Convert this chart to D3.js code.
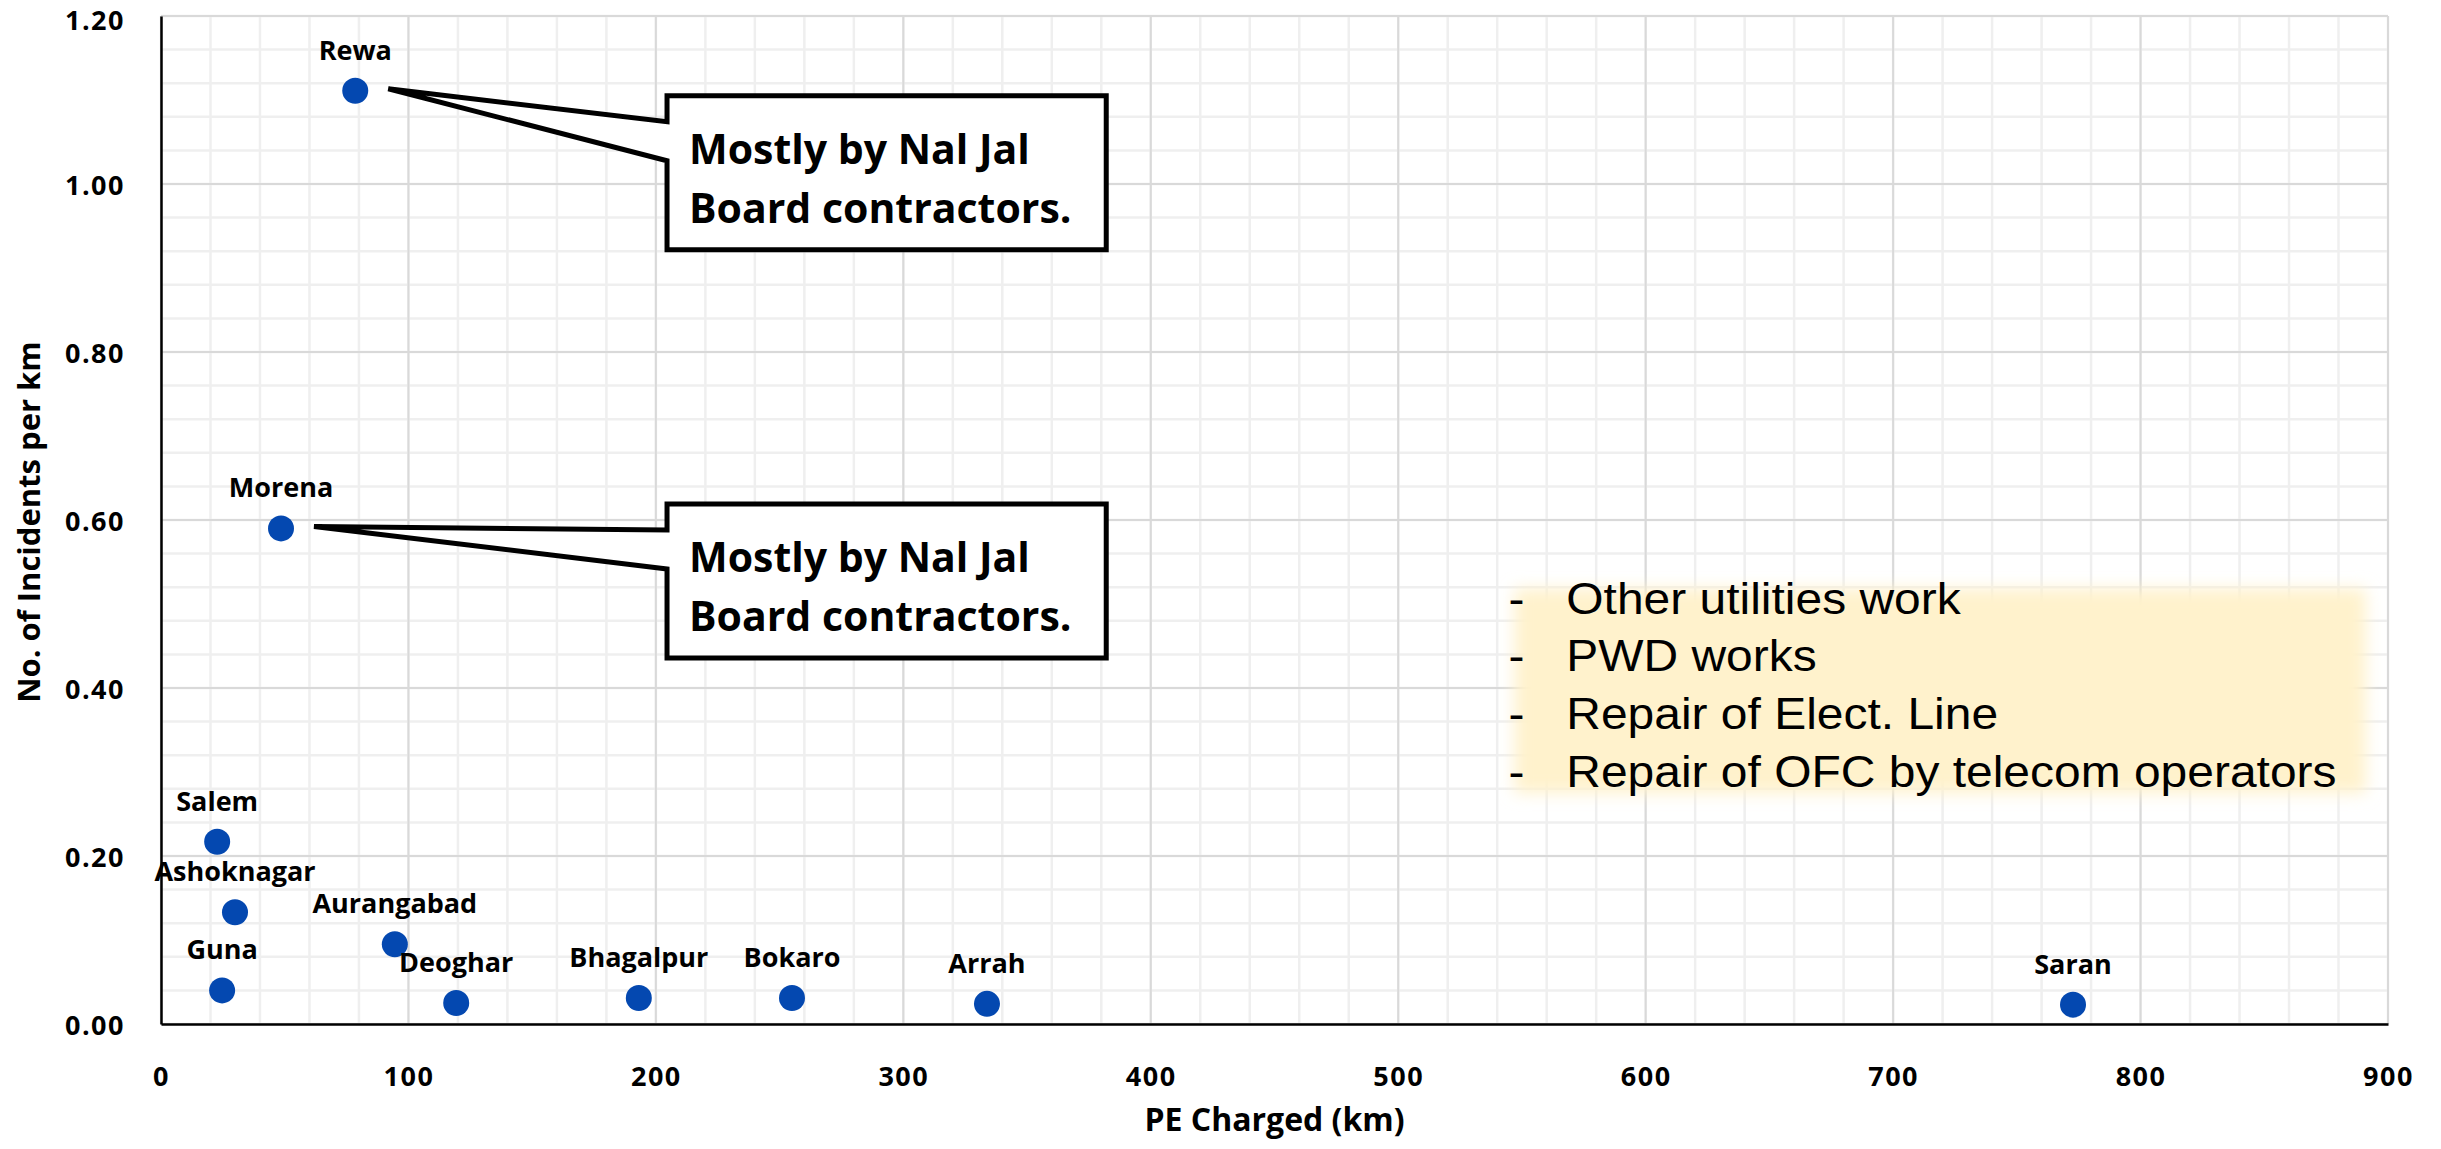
<!DOCTYPE html>
<html>
<head>
<meta charset="utf-8">
<script src="https://cdn.jsdelivr.net/npm/d3@7"></script>
<style>
  body { margin: 0; background: #fff; }
  text { font-family: "Open Sans", sans-serif; }
</style>
</head>
<body>
<svg id="chart" width="2441" height="1149"></svg>
<script>
// data
const cities = ["Rewa", "Morena", "Salem", "Ashoknagar", "Guna", "Aurangabad", "Deoghar", "Bhagalpur", "Bokaro", "Arrah", "Saran"];
const peCharged = [78.5, 48.5, 22.7, 29.9, 24.7, 94.5, 119.3, 193.1, 255, 333.8, 772.7];
const incidentsPerKm = [1.111, 0.590, 0.217, 0.133, 0.040, 0.095, 0.025, 0.031, 0.031, 0.024, 0.023];

const xTicks = [0, 100, 200, 300, 400, 500, 600, 700, 800, 900];
const yTicks = [0, 0.2, 0.4, 0.6, 0.8, 1.0, 1.2];

const calloutCities = ["Rewa", "Morena"];
const calloutTops = [1.105, 0.619];      // box top, in y units
const calloutLines = ["Mostly by Nal Jal", "Board contractors."];

const notes = ["Other utilities work", "PWD works", "Repair of Elect. Line", "Repair of OFC by telecom operators"];

const svg = d3.select("#chart");

const x = d3.scaleLinear().domain([0, 900]).range([161, 2388]);
const y = d3.scaleLinear().domain([0, 1.2]).range([1024, 16]);

// grid
const grid = svg.append("g");
grid.selectAll(".vminor")
    .data(d3.range(0, 901, 20))
    .enter().append("line")
    .attr("x1", d => x(d)).attr("x2", d => x(d))
    .attr("y1", y(0)).attr("y2", y(1.2))
    .attr("stroke", "#efefef").attr("stroke-width", 2.5);
grid.selectAll(".hminor")
    .data(d3.range(0, 1.2001, 0.04))
    .enter().append("line")
    .attr("x1", x(0)).attr("x2", x(900))
    .attr("y1", d => y(d)).attr("y2", d => y(d))
    .attr("stroke", "#efefef").attr("stroke-width", 2.5);
grid.selectAll(".vmajor")
    .data(xTicks)
    .enter().append("line")
    .attr("x1", d => x(d)).attr("x2", d => x(d))
    .attr("y1", y(0)).attr("y2", y(1.2))
    .attr("stroke", "#d9d9d9").attr("stroke-width", 2);
grid.selectAll(".hmajor")
    .data(yTicks)
    .enter().append("line")
    .attr("x1", x(0)).attr("x2", x(900))
    .attr("y1", d => y(d)).attr("y2", d => y(d))
    .attr("stroke", "#d9d9d9").attr("stroke-width", 2);

// axes
const xAxis = svg.append("g")
    .attr("transform", `translate(0,${y(0)})`)
    .call(d3.axisBottom(x).tickValues(xTicks).tickSize(0).tickPadding(43).tickFormat(d3.format("d")));
const yAxis = svg.append("g")
    .attr("transform", `translate(${x(0)},0)`)
    .call(d3.axisLeft(y).tickValues(yTicks).tickSize(0).tickPadding(36).tickFormat(d3.format(".2f")));

[xAxis, yAxis].forEach(a => {
    a.select(".domain").attr("stroke", "#000").attr("stroke-width", 2.5);
    a.selectAll("text")
        .attr("fill", "#000")
        .style("font-family", "'Open Sans', sans-serif")
        .style("font-weight", 700)
        .style("font-size", "27px")
        .style("letter-spacing", "1.5px");
});
// top label sits right at the edge, nudge it so it isn't clipped
yAxis.selectAll("text").attr("dy", d => d === 1.2 ? "0.5em" : "0.4em");

svg.append("text")
    .attr("x", (x(0) + x(900)) / 2)
    .attr("y", 1131)
    .attr("text-anchor", "middle")
    .style("font-weight", 700)
    .style("font-size", "32px")
    .text("PE Charged (km)");

svg.append("text")
    .attr("transform", `translate(40,${(y(0) + y(1.2)) / 2 + 2}) rotate(-90)`)
    .attr("text-anchor", "middle")
    .style("font-weight", 700)
    .style("font-size", "31px")
    .text("No. of Incidents per km");

// notes box (soft edged)
const defs = svg.append("defs");
defs.append("filter").attr("id", "soft")
    .attr("x", "-10%").attr("y", "-20%").attr("width", "120%").attr("height", "140%")
    .append("feGaussianBlur").attr("stdDeviation", 8);

const nx0 = x(547), nx1 = x(891), ny0 = y(0.518), ny1 = y(0.275);
svg.append("rect")
    .attr("x", nx0).attr("y", ny0)
    .attr("width", nx1 - nx0).attr("height", ny1 - ny0)
    .attr("fill", "#fff2cc")
    .attr("filter", "url(#soft)");

const noteG = svg.append("g")
    .attr("transform", `translate(${nx0 - 6},${ny0 + 25}) scale(1.09,1)`);
noteG.selectAll(".dash")
    .data(notes)
    .enter().append("text")
    .attr("x", 0)
    .attr("y", (d, i) => i * 57.6)
    .style("font-family", "'Liberation Sans', Arial, sans-serif")
    .style("font-size", "44px")
    .text("-");
noteG.selectAll(".note")
    .data(notes)
    .enter().append("text")
    .attr("x", 53)
    .attr("y", (d, i) => i * 57.6)
    .style("font-family", "'Liberation Sans', Arial, sans-serif")
    .style("font-size", "44px")
    .attr("fill", "#000")
    .text(d => d);

// points
const points = cities.map((c, i) => ({ city: c, pe: peCharged[i], rate: incidentsPerKm[i] }));

svg.append("g").selectAll("circle")
    .data(points)
    .enter().append("circle")
    .attr("cx", d => x(d.pe))
    .attr("cy", d => y(d.rate))
    .attr("r", 13)
    .attr("fill", "#0448b0");

svg.append("g").selectAll("text")
    .data(points)
    .enter().append("text")
    .attr("x", d => x(d.pe))
    .attr("y", d => y(d.rate) - 31)
    .attr("text-anchor", "middle")
    .style("font-weight", 700)
    .style("font-size", "27px")
    .attr("fill", "#000")
    .text(d => d.city);

// callouts
const bx0 = x(204.5), bx1 = x(382);
const boxH = 154;
calloutCities.forEach((c, i) => {
    const p = points.find(d => d.city === c);
    const tipX = x(p.pe) + 33, tipY = y(p.rate) - 2;
    const top = y(calloutTops[i]);
    const path = d3.path();
    path.moveTo(bx0, top);
    path.lineTo(bx1, top);
    path.lineTo(bx1, top + boxH);
    path.lineTo(bx0, top + boxH);
    path.lineTo(bx0, top + 65);
    path.lineTo(tipX, tipY);
    path.lineTo(bx0, top + 26);
    path.closePath();
    svg.append("path")
        .attr("d", path.toString())
        .attr("fill", "#fff")
        .attr("stroke", "#000")
        .attr("stroke-width", 5)
        .attr("stroke-linejoin", "miter");
    svg.append("g").selectAll("text")
        .data(calloutLines)
        .enter().append("text")
        .attr("x", bx0 + 22)
        .attr("y", (d, j) => top + 68 + j * 59)
        .style("font-weight", 700)
        .style("font-size", "41px")
        .attr("fill", "#000")
        .text(d => d);
});
</script>
</body>
</html>
